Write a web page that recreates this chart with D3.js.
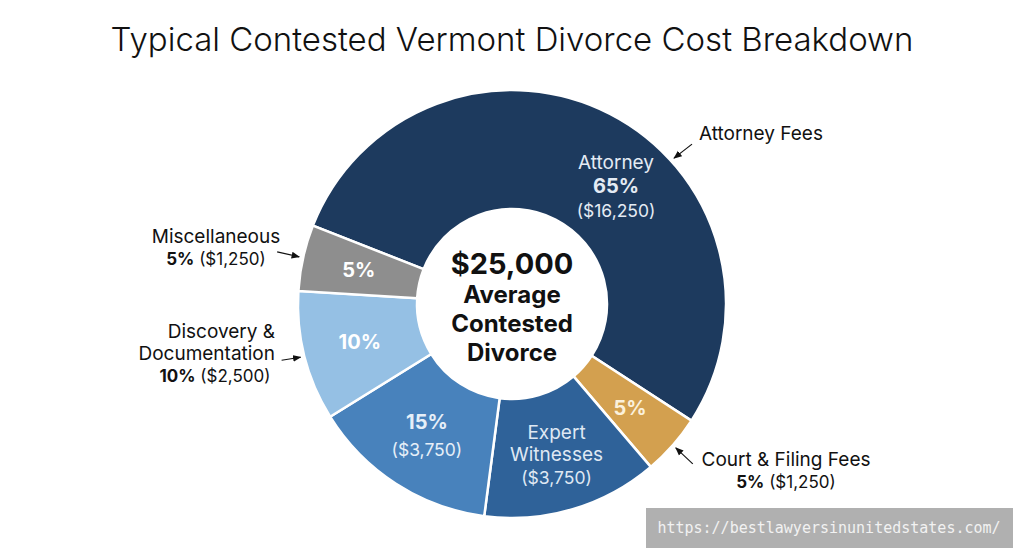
<!DOCTYPE html>
<html lang="en">
<head>
<meta charset="UTF-8">
<title>Typical Contested Vermont Divorce Cost Breakdown</title>
<style>
    body { margin: 0; background: #fff; }
    svg { display: block; font-family: Inter, "Open Sans", sans-serif; }
</style>
</head>
<body>
<svg id="chart" width="1024" height="559"></svg>
<script src="https://d3js.org/d3.v7.min.js"></script>
<script>
    // Slices in clockwise order, starting with Attorney
    const sliceNames = ["Attorney", "Court & Filing Fees", "Expert Witnesses", "Other", "Discovery & Documentation", "Miscellaneous"];
    const percentLabels = ["65%", "5%", "15%", "15%", "10%", "5%"];
    const dollarLabels = ["$16,250", "$1,250", "$3,750", "$3,750", "$2,500", "$1,250"];
    // share of the ring each slice takes in the picture (%)
    const drawnShare = [53.2, 4.6, 13.3, 14.1, 9.8, 5.0];
    const sliceColors = ["#1d3a5e", "#d3a04f", "#2f6299", "#4882bc", "#95c0e4", "#8e8e8e"];

    const width = 1024, height = 559;
    const cx = 512, cy = 304;
    const rInner = 95, rOuter = 214;

    const svg = d3.select("#chart");

    svg.append("text")
        .attr("x", width / 2)
        .attr("y", 51)
        .attr("text-anchor", "middle")
        .attr("font-size", 33)
        .attr("font-weight", 300)
        .attr("fill", "#111")
        .text("Typical Contested Vermont Divorce Cost Breakdown");

    const data = sliceNames.map((name, i) => ({
        name, pct: percentLabels[i], dollars: dollarLabels[i], share: drawnShare[i]
    }));

    const color = d3.scaleOrdinal(sliceNames, sliceColors);
    const start = -68.5 * Math.PI / 180;
    const pie = d3.pie().value(d => d.share).sort(null)
        .startAngle(start).endAngle(start + 2 * Math.PI);
    const arc = d3.arc().innerRadius(rInner).outerRadius(rOuter);
    const arcs = pie(data);

    const g = svg.append("g").attr("transform", `translate(${cx},${cy})`);

    g.selectAll("path")
        .data(arcs)
        .enter()
        .append("path")
        .attr("d", arc)
        .attr("fill", d => color(d.data.name))
        .attr("stroke", "#fff")
        .attr("stroke-width", 2.5);

    const polar = (a, r) => [r * Math.sin(a), -r * Math.cos(a)];
    const mid = d => (d.startAngle + d.endAngle) / 2;

    // text inside the slices: [text, weight, size]
    const inner = {
        "Attorney": { lines: [["Attorney", 400, 19], ["65%", 700, 20], ["($16,250)", 400, 17.5]], fill: "#e4ebf4", lh: 24, angle: 41.5 },
        "Court & Filing Fees": { lines: [["5%", 700, 20]], fill: "#fbf1dc" },
        "Expert Witnesses": { lines: [["Expert", 400, 19], ["Witnesses", 400, 19], ["($3,750)", 400, 17.5]], fill: "#dfe8f3", lh: 22.5 },
        "Other": { lines: [["15%", 700, 20], ["($3,750)", 400, 17.5]], fill: "#e6eff8", lh: 27 },
        "Discovery & Documentation": { lines: [["10%", 700, 20]], fill: "#fff" },
        "Miscellaneous": { lines: [["5%", 700, 20]], fill: "#fff" }
    };

    arcs.forEach(d => {
        const spec = inner[d.data.name];
        const a = spec.angle !== undefined ? spec.angle * Math.PI / 180 : mid(d);
        const [x, y] = polar(a, 157);
        const n = spec.lines.length;
        spec.lines.forEach(([t, w, s], i) => {
            g.append("text")
                .attr("x", x)
                .attr("y", y + (i - (n - 1) / 2) * (spec.lh || 24))
                .attr("text-anchor", "middle")
                .attr("dominant-baseline", "central")
                .attr("font-size", s)
                .attr("font-weight", w)
                .attr("fill", spec.fill)
                .text(t);
        });
    });

    // centre
    const centreLines = [["$25,000", 29, -30], ["Average", 24, -1], ["Contested", 24, 28], ["Divorce", 24, 57]];
    centreLines.forEach(([t, s, dy]) => {
        g.append("text")
            .attr("x", 0)
            .attr("y", dy)
            .attr("text-anchor", "middle")
            .attr("font-size", s)
            .attr("font-weight", 700)
            .attr("fill", "#111")
            .text(t);
    });

    // outside callouts with arrows
    svg.append("defs").append("marker")
        .attr("id", "head")
        .attr("viewBox", "0 0 10 10")
        .attr("refX", 9).attr("refY", 5)
        .attr("markerWidth", 7).attr("markerHeight", 7)
        .attr("orient", "auto-start-reverse")
        .append("path")
        .attr("d", "M0,1 L10,5 L0,9 Z")
        .attr("fill", "#111");

    const callouts = [
        { name: "Attorney", angle: 48, tail: [18, -14], anchor: "start", x: 699, y: 140,
          lines: [[["Attorney Fees", 400]]] },
        { name: "Miscellaneous", tail: [-22, -5], anchor: "middle", x: 216, y: 243,
          lines: [[["Miscellaneous", 400]], [["5%", 700], [" ($1,250)", 400]]] },
        { name: "Discovery & Documentation", tail: [-19, 3], anchor: "end", x: 275, y: 338,
          lines: [[["Discovery &", 400]], [["Documentation", 400]], [["10%", 700], [" ($2,500)", 400]]] },
        { name: "Court & Filing Fees", tail: [17, 16], anchor: "middle", x: 786, y: 466,
          lines: [[["Court & Filing Fees", 400]], [["5%", 700], [" ($1,250)", 400]]] }
    ];

    callouts.forEach(c => {
        const d = arcs.find(a => a.data.name === c.name);
        const a = c.angle !== undefined ? c.angle * Math.PI / 180 : mid(d);
        const [tx, ty] = polar(a, rOuter + 4);
        svg.append("line")
            .attr("x1", cx + tx + c.tail[0]).attr("y1", cy + ty + c.tail[1])
            .attr("x2", cx + tx).attr("y2", cy + ty)
            .attr("stroke", "#111")
            .attr("stroke-width", 1.2)
            .attr("marker-end", "url(#head)");

        c.lines.forEach((parts, i) => {
            const numbers = parts.length > 1;
            const last = i === c.lines.length - 1 && c.lines.length === 3;
            const t = svg.append("text")
                .attr("x", last ? c.x - 60 : c.x)
                .attr("y", c.y + i * 22)
                .attr("text-anchor", last ? "middle" : c.anchor)
                .attr("font-size", numbers ? 17 : 19)
                .attr("fill", "#111");
            parts.forEach(([s, w]) => t.append("tspan").attr("font-weight", w).text(s));
        });
    });

    // source watermark
    svg.append("rect")
        .attr("x", 646).attr("y", 508)
        .attr("width", 367).attr("height", 40)
        .attr("fill", "#b0b0b0");
    svg.append("text")
        .attr("x", 829).attr("y", 533)
        .attr("text-anchor", "middle")
        .attr("font-family", "'DejaVu Sans Mono', monospace")
        .attr("font-size", 15)
        .attr("fill", "#f2f2f2")
        .text("https://bestlawyersinunitedstates.com/");
</script>
</body>
</html>
